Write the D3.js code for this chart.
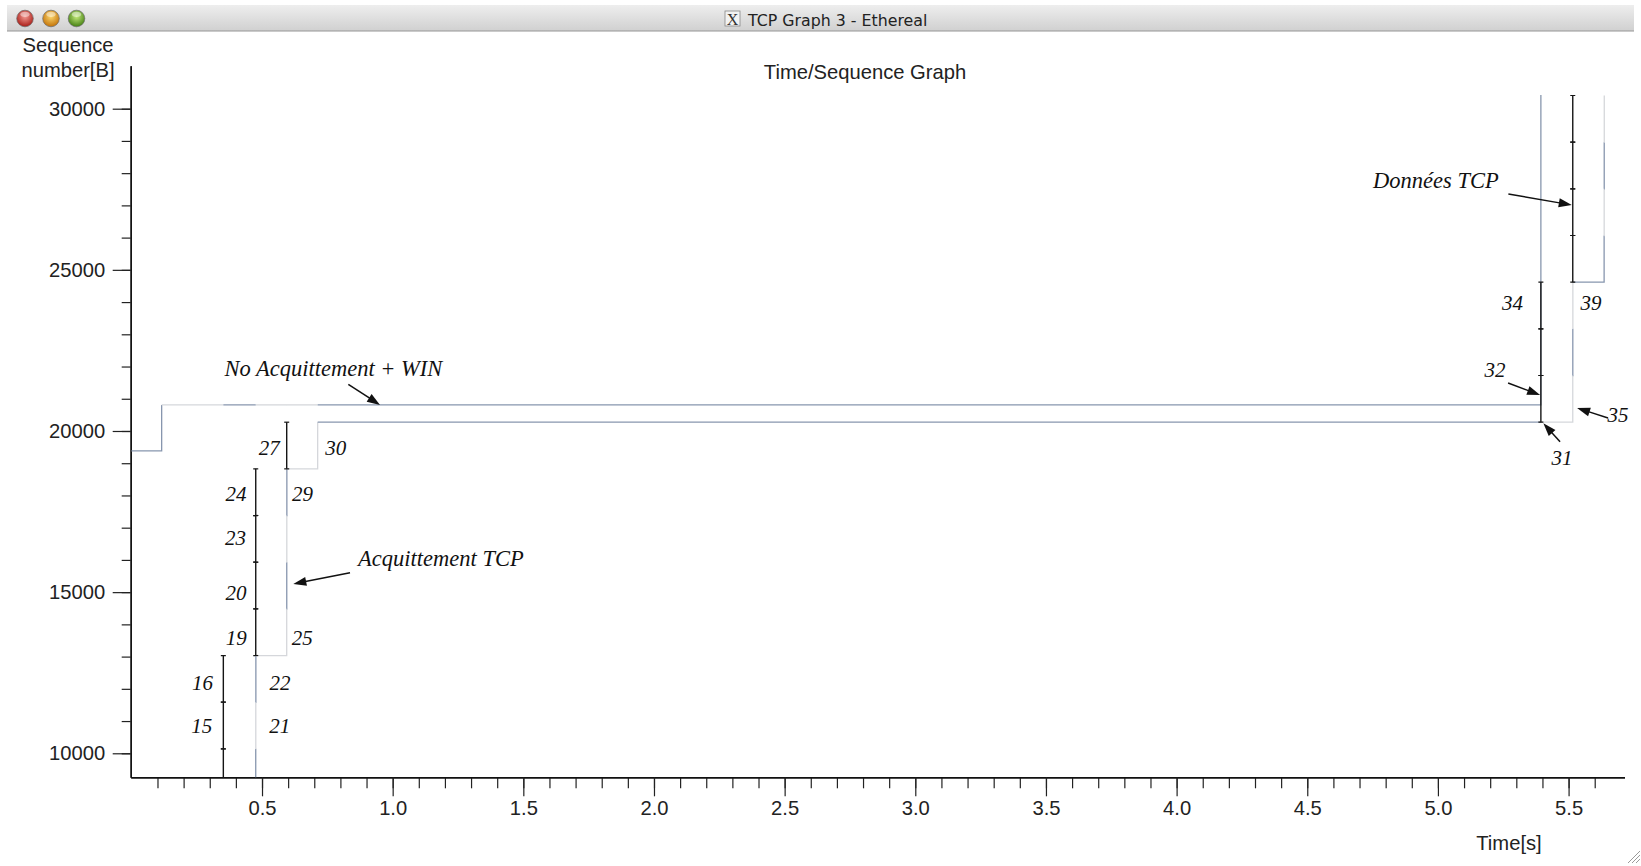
<!DOCTYPE html>
<html><head><meta charset="utf-8">
<script src="https://cdn.jsdelivr.net/npm/d3@7"></script>
<style>
html,body{margin:0;padding:0;background:#fff;overflow:hidden;}
svg{display:block;}
</style></head>
<body><svg id="c" width="1641" height="866"></svg>
<script>
// ---------------- data ----------------
const windowTitle = "TCP Graph 3 - Ethereal";
const chartTitle = "Time/Sequence Graph";
const yLabelLines = ["Sequence", "number[B]"];
const xLabel = "Time[s]";

const xMajorTicks = [0.5, 1.0, 1.5, 2.0, 2.5, 3.0, 3.5, 4.0, 4.5, 5.0, 5.5];
const xMajorLabels = ["0.5","1.0","1.5","2.0","2.5","3.0","3.5","4.0","4.5","5.0","5.5"];
const yMajorTicks = [10000, 15000, 20000, 25000, 30000];
const yMajorLabels = ["10000","15000","20000","25000","30000"];

// data segments (black I-bars): time [s], start seq, end seq
const segTimes = [0.352, 0.352, 0.352, 0.476, 0.476, 0.476, 0.476, 0.5945, 5.394, 5.394, 5.394, 5.516, 5.516, 5.516, 5.516];
const segStart = [8689, 10137, 11585, 13033, 14481, 15929, 17377, 18825, 20273, 21721, 23169, 24617, 26065, 27513, 28961];
const segEnd   = [10137, 11585, 13033, 14481, 15929, 17377, 18825, 20273, 21721, 23169, 24617, 26065, 27513, 28961, 30409];

// ack frames: time, ack number, ack + window (window edge)
const ackStartTime = 0, ackStartValue = 5793, winStartValue = 19380;
const ackTimes  = [0.116, 0.352, 0.476, 0.4762, 0.4765, 0.5945, 0.5947, 0.5949, 0.5951, 0.713, 5.394, 5.516, 5.5162, 5.5164, 5.636, 5.6362, 5.6364, 5.6366];
const ackValues = [7241, 8689, 10137, 11585, 13033, 14481, 15929, 17377, 18825, 20273, 20273, 21721, 23169, 24617, 26065, 27513, 28961, 30409];
const winValues = [20810, 20810, 20810, 20810, 20810, 20810, 20810, 20810, 20810, 20810, 85808, 87256, 88704, 90152, 91600, 93048, 94496, 95944];

// frame number labels: text, time, seq (baseline)
const frameLabels = ["15","16","19","20","23","24","27","21","22","25","29","30","34","39","32","35","31"];
const frameLabelT = [0.269, 0.2724, 0.4017, 0.400, 0.3986, 0.400, 0.5275, 0.5677, 0.5689, 0.6538, 0.655, 0.7825, 5.2857, 5.586, 5.2187, 5.6895, 5.475];
const frameLabelV = [10630, 11964, 13360, 14756, 16463, 17837, 19255, 10630, 11964, 13360, 17837, 19255, 23754, 23754, 21675, 20279, 18945];

// annotations: text, start time, baseline seq
const noteTexts = ["No Acquittement + WIN", "Acquittement TCP", "Données TCP"];
const noteT = [0.3565, 0.8676, 4.7518];
const noteV = [21706, 15811, 27540];

// arrows: tail (t, seq) -> head (t, seq)
const arrowTailT = [0.8303, 0.8368, 5.2696, 5.2685, 5.651, 5.4674];
const arrowTailV = [21449, 15604, 27353, 21489, 20403, 19668];
const arrowHeadT = [0.9516, 0.6198, 5.5122, 5.391, 5.5326, 5.4035];
const arrowHeadV = [20807, 15253, 27012, 21117, 20713, 20239];

// ---------------- drawing ----------------
const svg = d3.select("#c");
const x = d3.scaleLinear().domain([-0.0025, 5.714]).range([130.7, 1624.5]);
const y = d3.scaleLinear().domain([9255, 31334]).range([777.3, 65.7]);

const SANS = "'Liberation Sans', Arial, sans-serif";
const SERIF = "'Liberation Serif', 'Times New Roman', serif";
const FS = 20.2;

// window chrome
const defs = svg.append("defs");
const tg = defs.append("linearGradient").attr("id","tb").attr("x1",0).attr("y1",0).attr("x2",0).attr("y2",1);
tg.append("stop").attr("offset","0%").attr("stop-color","#eeeeee");
tg.append("stop").attr("offset","100%").attr("stop-color","#d0d0d0");
svg.append("rect").attr("x",7).attr("y",5).attr("width",1627).attr("height",26).attr("fill","url(#tb)");
svg.append("line").attr("x1",7).attr("x2",1634).attr("y1",31).attr("y2",31).attr("stroke","#969696").attr("stroke-width",1);

const lights = [["#a81c16","#f39a92"],["#c27208","#fbd66e"],["#447f12","#c4ea7c"]];
const lightX = [25, 51, 76.5];
lights.forEach((c,i)=>{
  const g = defs.append("radialGradient").attr("id","l"+i).attr("cx","50%").attr("cy","38%").attr("r","62%");
  g.append("stop").attr("offset","0%").attr("stop-color",c[1]);
  g.append("stop").attr("offset","100%").attr("stop-color",c[0]);
  svg.append("circle").attr("cx",lightX[i]).attr("cy",18.5).attr("r",8.3)
     .attr("fill","url(#l"+i+")").attr("stroke","#6a6a6a").attr("stroke-width",0.7);
  svg.append("ellipse").attr("cx",lightX[i]).attr("cy",14.3).attr("rx",4.6).attr("ry",2.6)
     .attr("fill","#ffffff").attr("opacity",0.45);
});
svg.append("rect").attr("x",725).attr("y",11).attr("width",15).attr("height",15)
   .attr("fill","#f2f2f2").attr("stroke","#888").attr("stroke-width",0.8);
svg.append("text").attr("x",732.5).attr("y",24.5).attr("text-anchor","middle")
   .attr("font-family",SERIF).attr("font-size",16).attr("fill","#333").text("X");
svg.append("text").attr("x",748).attr("y",26).attr("font-family","'DejaVu Sans', sans-serif")
   .attr("font-size",15.8).attr("fill","#222").text(windowTitle);

// titles
svg.append("text").attr("x",865).attr("y",79).attr("text-anchor","middle")
   .attr("font-family",SANS).attr("font-size",FS).attr("fill","#222").text(chartTitle);
svg.selectAll("text.ylab").data(yLabelLines).join("text").attr("class","ylab")
   .attr("x",68).attr("y",(d,i)=>51.5+i*25).attr("text-anchor","middle")
   .attr("font-family",SANS).attr("font-size",FS).attr("fill","#222").text(d=>d);
svg.append("text").attr("x",1509).attr("y",850).attr("text-anchor","middle")
   .attr("font-family",SANS).attr("font-size",FS).attr("fill","#222").text(xLabel);

// axes
function styleAxis(g){
  g.selectAll("path.domain").attr("stroke","#111").attr("stroke-width",1.4);
  g.selectAll(".tick line").attr("stroke","#222").attr("stroke-width",1.2);
  g.selectAll("text").attr("font-family",SANS).attr("font-size",FS).attr("fill","#222");
}
const xMinor = d3.range(1,57).map(i=>i/10);
const yMinor = d3.range(10,31).map(i=>i*1000);
svg.append("g").attr("transform","translate(0,777.3)")
   .call(d3.axisBottom(x).tickValues(xMinor).tickSize(11).tickSizeOuter(0).tickFormat(""))
   .call(styleAxis);
svg.append("g").attr("transform","translate(0,777.3)")
   .call(d3.axisBottom(x).tickValues(xMajorTicks).tickSize(19).tickSizeOuter(0).tickPadding(4.5)
         .tickFormat((d,i)=>xMajorLabels[i]))
   .call(styleAxis);
svg.append("g").attr("transform","translate(130.7,0)")
   .call(d3.axisLeft(y).tickValues(yMinor).tickSize(9).tickSizeOuter(0).tickFormat(""))
   .call(styleAxis);
svg.append("g").attr("transform","translate(130.7,0)")
   .call(d3.axisLeft(y).tickValues(yMajorTicks).tickSize(18).tickSizeOuter(0).tickPadding(7.5)
         .tickFormat((d,i)=>yMajorLabels[i]))
   .call(styleAxis);

// plot clip
defs.append("clipPath").attr("id","plot").append("rect")
   .attr("x",130.7).attr("y",95).attr("width",1624.5-130.7).attr("height",777.3-95);
const plot = svg.append("g").attr("clip-path","url(#plot)");

const DARK = "#8796ae", LIGHT = "#d5d7db";
function stepLine(startT, startV, times, values){
  let pt = startT, pv = startV;
  times.forEach((t,i)=>{
    const v = values[i];
    const p = d3.path();
    p.moveTo(x(pt), y(pv)); p.lineTo(x(t), y(pv)); p.lineTo(x(t), y(v));
    plot.append("path").attr("d",p.toString()).attr("fill","none")
        .attr("stroke", i%2===0 ? DARK : LIGHT).attr("stroke-width",1.3);
    pt = t; pv = v;
  });
}
stepLine(ackStartTime, winStartValue, ackTimes, winValues);
stepLine(ackStartTime, ackStartValue, ackTimes, ackValues);

// data segments
segTimes.forEach((t,i)=>{
  const xx = x(t), y0 = y(segStart[i]), y1 = y(segEnd[i]);
  plot.append("line").attr("x1",xx).attr("x2",xx).attr("y1",y0).attr("y2",y1)
      .attr("stroke","#151515").attr("stroke-width",1.4);
  [y0,y1].forEach(yy=>plot.append("line").attr("x1",xx-2.5).attr("x2",xx+2.5)
      .attr("y1",yy).attr("y2",yy).attr("stroke","#151515").attr("stroke-width",1.2));
});

// frame labels
frameLabels.forEach((s,i)=>{
  svg.append("text").attr("x",x(frameLabelT[i])).attr("y",y(frameLabelV[i]))
     .attr("text-anchor","middle").attr("font-family",SERIF).attr("font-style","italic")
     .attr("font-size",21).attr("fill","#111").text(s);
});
// annotation texts
noteTexts.forEach((s,i)=>{
  svg.append("text").attr("x",x(noteT[i])).attr("y",y(noteV[i]))
     .attr("font-family",SERIF).attr("font-style","italic")
     .attr("font-size",22.5).attr("fill","#111").text(s);
});
// arrows
arrowTailT.forEach((t,i)=>{
  const x0 = x(t), y0 = y(arrowTailV[i]), x1 = x(arrowHeadT[i]), y1 = y(arrowHeadV[i]);
  const dx = x1-x0, dy = y1-y0, L = Math.hypot(dx,dy), ux = dx/L, uy = dy/L;
  const hl = 13, hw = 4.5;
  const bx = x1-ux*hl, by = y1-uy*hl;
  svg.append("line").attr("x1",x0).attr("y1",y0).attr("x2",bx+ux*2).attr("y2",by+uy*2)
     .attr("stroke","#111").attr("stroke-width",1.5);
  svg.append("path").attr("d",`M${x1},${y1}L${bx-uy*hw},${by+ux*hw}L${bx+uy*hw},${by-ux*hw}Z`)
     .attr("fill","#111");
});

// resize grip
[0,1,2].forEach(k=>{
  svg.append("line").attr("x1",1628+k*4).attr("y1",863).attr("x2",1640).attr("y2",851+k*4)
     .attr("stroke","#9a9a9a").attr("stroke-width",1);
});
</script>
</body></html>
